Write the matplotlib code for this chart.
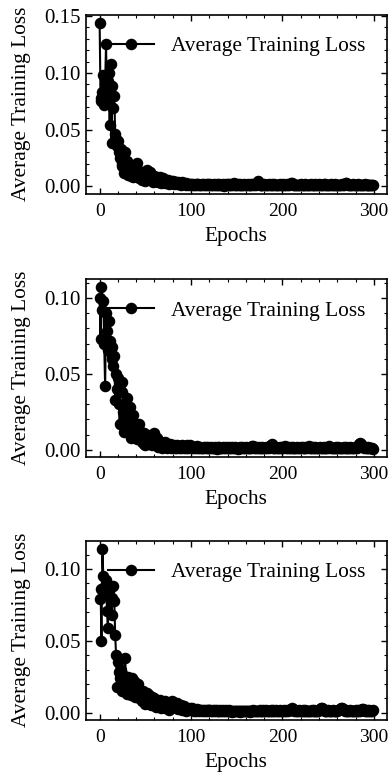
import numpy as np
from matplotlib import pyplot
from matplotlib.ticker import MultipleLocator


### figure preliminaries:
params = {	'font.family':'serif', 'font.serif':['Liberation Serif'],
			'font.size':15.4, 'axes.labelsize':15.4, 'legend.fontsize':15.4,
			'xtick.labelsize':14, 'ytick.labelsize':15,
			'xtick.direction':'in', 'ytick.direction':'in',
			'xtick.top':True, 'ytick.right':True,
			'xtick.major.size':4, 'ytick.major.size':4,
			'xtick.minor.size':2, 'ytick.minor.size':2,
			'xtick.major.width':1.0, 'ytick.major.width':1.0,
			'xtick.minor.width':0.8, 'ytick.minor.width':0.8,
			'xtick.major.pad':7, 'ytick.major.pad':4,
			'axes.linewidth':1.2,
			'figure.figsize': [3.89, 7.78]}
pyplot.rcParams.update(params)


#(0) Data:
loss_run1 = [
	0.144, 0.078, 0.075, 0.083, 0.098, 0.072, 0.090, 0.125, 0.080, 0.093, 0.100, 0.054, 0.108, 0.038, 0.088, 0.069, 0.080, 0.046, 0.042, 0.036,
	0.040, 0.030, 0.025, 0.033, 0.020, 0.018, 0.026, 0.012, 0.030, 0.015, 0.022, 0.010, 0.018, 0.014, 0.009, 0.016, 0.012, 0.008, 0.013, 0.010,
	0.017, 0.021, 0.012, 0.007, 0.011, 0.009, 0.006, 0.013, 0.008, 0.010, 0.005, 0.012, 0.014, 0.007, 0.009, 0.013, 0.006, 0.010, 0.004, 0.008,
	0.009, 0.005, 0.007, 0.008, 0.004, 0.006, 0.008, 0.003, 0.005, 0.007, 0.004, 0.006, 0.003, 0.005, 0.004, 0.006, 0.002, 0.004, 0.005, 0.003,
	0.0045, 0.0025, 0.0035, 0.0030, 0.0040, 0.0020, 0.0035, 0.0025, 0.0030, 0.0015, 0.0035, 0.0020, 0.0030, 0.0025, 0.0015, 0.0030, 0.0020, 0.0025, 0.0015, 0.0020,
	0.0018, 0.0012, 0.0022, 0.0015, 0.0009, 0.0020, 0.0013, 0.0017, 0.0025, 0.0011, 0.0016, 0.0008, 0.0019, 0.0014, 0.0021, 0.0010, 0.0015, 0.0024, 0.0012, 0.0017,
	0.0009, 0.0020, 0.0013, 0.0016, 0.0011, 0.0022, 0.0014, 0.0008, 0.0018, 0.0012, 0.0015, 0.0021, 0.0010, 0.0016, 0.0013, 0.0019, 0.0007, 0.0014, 0.0020, 0.0011,
	0.0017, 0.0012, 0.0023, 0.0009, 0.0015, 0.0018, 0.0010, 0.0026, 0.0013, 0.0016, 0.0008, 0.0019, 0.0012, 0.0015, 0.0021, 0.0011, 0.0014, 0.0009, 0.0018, 0.0013,
	0.0016, 0.0010, 0.0020, 0.0012, 0.0015, 0.0008, 0.0017, 0.0013, 0.0019, 0.0011, 0.0022, 0.0014, 0.0030, 0.0045, 0.0021, 0.0012, 0.0016, 0.0009, 0.0015, 0.0011,
	0.0018, 0.0013, 0.0008, 0.0016, 0.0012, 0.0020, 0.0010, 0.0014, 0.0017, 0.0009, 0.0013, 0.0019, 0.0011, 0.0015, 0.0008, 0.0016, 0.0012, 0.0021, 0.0010, 0.0014,
	0.0011, 0.0017, 0.0009, 0.0015, 0.0012, 0.0019, 0.0010, 0.0013, 0.0022, 0.0027, 0.0032, 0.0018, 0.0012, 0.0009, 0.0015, 0.0011, 0.0016, 0.0008, 0.0014, 0.0012,
	0.0018, 0.0010, 0.0013, 0.0016, 0.0009, 0.0021, 0.0012, 0.0015, 0.0008, 0.0014, 0.0011, 0.0019, 0.0013, 0.0009, 0.0016, 0.0012, 0.0020, 0.0010, 0.0014, 0.0011,
	0.0017, 0.0009, 0.0013, 0.0015, 0.0010, 0.0018, 0.0012, 0.0024, 0.0014, 0.0008, 0.0016, 0.0011, 0.0013, 0.0019, 0.0009, 0.0015, 0.0012, 0.0017, 0.0010, 0.0013,
	0.0011, 0.0016, 0.0009, 0.0014, 0.0012, 0.0018, 0.0010, 0.0015, 0.0022, 0.0026, 0.0030, 0.0017, 0.0011, 0.0014, 0.0009, 0.0016, 0.0012, 0.0019, 0.0010, 0.0013,
	0.0015, 0.0009, 0.0012, 0.0017, 0.0010, 0.0014, 0.0008, 0.0016, 0.0011, 0.0013, 0.0018, 0.0009, 0.0014, 0.0012, 0.0010, 0.0016, 0.0011, 0.0013, 0.0009, 0.0012]

loss_run2 = [
	0.100, 0.073, 0.107, 0.092, 0.098, 0.070, 0.042, 0.090, 0.078, 0.066, 0.085, 0.072, 0.064, 0.068, 0.060, 0.055, 0.062, 0.033, 0.050, 0.040,
	0.047, 0.030, 0.017, 0.044, 0.038, 0.045, 0.025, 0.012, 0.030, 0.020, 0.034, 0.022, 0.015, 0.028, 0.008, 0.018, 0.023, 0.012, 0.015, 0.010,
	0.017, 0.007, 0.014, 0.017, 0.009, 0.012, 0.005, 0.007, 0.011, 0.004, 0.003, 0.008, 0.006, 0.010, 0.004, 0.007, 0.009, 0.003, 0.006, 0.010,
	0.011, 0.005, 0.004, 0.008, 0.002, 0.006, 0.003, 0.005, 0.001, 0.004, 0.003, 0.005, 0.002, 0.004, 0.001, 0.003, 0.002, 0.004, 0.0015, 0.003,
	0.0020, 0.0035, 0.0015, 0.0025, 0.0010, 0.0030, 0.0020, 0.0015, 0.0028, 0.0012, 0.0035, 0.0020, 0.0015, 0.0025, 0.0010, 0.0020, 0.0030, 0.0015, 0.0022, 0.0030,
	0.0025, 0.0015, 0.0020, 0.0012, 0.0018, 0.0010, 0.0016, 0.0022, 0.0011, 0.0014, 0.0019, 0.0009, 0.0015, 0.0012, 0.0020, 0.0010, 0.0016, 0.0013, 0.0021, 0.0011,
	0.0014, 0.0009, 0.0017, 0.0012, 0.0015, 0.0010, 0.0018, 0.0013, 0.0008, 0.0016, 0.0011, 0.0019, 0.0012, 0.0014, 0.0009, 0.0017, 0.0011, 0.0013, 0.0016, 0.0010,
	0.0015, 0.0012, 0.0018, 0.0009, 0.0013, 0.0016, 0.0010, 0.0014, 0.0020, 0.0011, 0.0015, 0.0008, 0.0013, 0.0017, 0.0010, 0.0012, 0.0016, 0.0009, 0.0014, 0.0011,
	0.0017, 0.0010, 0.0013, 0.0015, 0.0009, 0.0019, 0.0012, 0.0022, 0.0026, 0.0014, 0.0011, 0.0016, 0.0009, 0.0013, 0.0018, 0.0010, 0.0015, 0.0012, 0.0020, 0.0011,
	0.0014, 0.0009, 0.0016, 0.0012, 0.0018, 0.0013, 0.0024, 0.0033, 0.0040, 0.0028, 0.0015, 0.0010, 0.0013, 0.0017, 0.0009, 0.0014, 0.0011, 0.0016, 0.0012, 0.0019,
	0.0010, 0.0015, 0.0021, 0.0024, 0.0013, 0.0009, 0.0016, 0.0011, 0.0014, 0.0018, 0.0010, 0.0013, 0.0017, 0.0009, 0.0015, 0.0012, 0.0019, 0.0011, 0.0014, 0.0010,
	0.0016, 0.0012, 0.0018, 0.0009, 0.0014, 0.0011, 0.0017, 0.0013, 0.0020, 0.0023, 0.0015, 0.0010, 0.0013, 0.0016, 0.0009, 0.0012, 0.0018, 0.0011, 0.0015, 0.0010,
	0.0014, 0.0017, 0.0011, 0.0013, 0.0009, 0.0016, 0.0012, 0.0015, 0.0010, 0.0019, 0.0013, 0.0023, 0.0016, 0.0011, 0.0014, 0.0009, 0.0015, 0.0012, 0.0017, 0.0010,
	0.0013, 0.0016, 0.0011, 0.0014, 0.0009, 0.0015, 0.0012, 0.0018, 0.0010, 0.0013, 0.0016, 0.0011, 0.0014, 0.0009, 0.0017, 0.0012, 0.0015, 0.0010, 0.0013, 0.0016,
	0.0011, 0.0014, 0.0018, 0.0025, 0.0036, 0.0046, 0.0041, 0.0028, 0.0019, 0.0013, 0.0016, 0.0010, 0.0014, 0.0011, 0.0017, 0.0012, 0.0009, 0.0013, 0.0010, 0.0008]

loss_run3 = [
	0.079, 0.086, 0.050, 0.114, 0.095, 0.082, 0.088, 0.092, 0.071, 0.059, 0.085, 0.088, 0.078, 0.068, 0.080, 0.088, 0.078, 0.054, 0.040, 0.018,
	0.035, 0.028, 0.024, 0.030, 0.020, 0.015, 0.026, 0.022, 0.038, 0.018, 0.013, 0.025, 0.017, 0.021, 0.012, 0.024, 0.019, 0.016, 0.022, 0.011,
	0.018, 0.014, 0.020, 0.010, 0.016, 0.012, 0.008, 0.015, 0.009, 0.013, 0.006, 0.011, 0.014, 0.007, 0.012, 0.009, 0.005, 0.011, 0.008, 0.010,
	0.006, 0.009, 0.004, 0.008, 0.007, 0.005, 0.009, 0.003, 0.007, 0.006, 0.004, 0.008, 0.003, 0.006, 0.005, 0.004, 0.002, 0.005, 0.006, 0.008,
	0.0075, 0.0040, 0.0060, 0.0030, 0.0050, 0.0065, 0.0025, 0.0040, 0.0030, 0.0050, 0.0020, 0.0035, 0.0045, 0.0020, 0.0030, 0.0015, 0.0035, 0.0025, 0.0020, 0.0030,
	0.0025, 0.0030, 0.0022, 0.0015, 0.0019, 0.0012, 0.0024, 0.0016, 0.0020, 0.0013, 0.0018, 0.0022, 0.0011, 0.0017, 0.0014, 0.0020, 0.0012, 0.0016, 0.0019, 0.0013,
	0.0017, 0.0021, 0.0012, 0.0015, 0.0018, 0.0010, 0.0016, 0.0013, 0.0019, 0.0011, 0.0015, 0.0012, 0.0017, 0.0010, 0.0014, 0.0018, 0.0011, 0.0013, 0.0016, 0.0009,
	0.0014, 0.0011, 0.0016, 0.0010, 0.0013, 0.0008, 0.0015, 0.0012, 0.0010, 0.0014, 0.0009, 0.0013, 0.0011, 0.0015, 0.0008, 0.0012, 0.0010, 0.0014, 0.0009, 0.0011,
	0.0013, 0.0009, 0.0015, 0.0011, 0.0008, 0.0014, 0.0010, 0.0012, 0.0016, 0.0009, 0.0013, 0.0011, 0.0015, 0.0010, 0.0014, 0.0018, 0.0012, 0.0009, 0.0013, 0.0016,
	0.0011, 0.0014, 0.0019, 0.0012, 0.0010, 0.0015, 0.0013, 0.0017, 0.0011, 0.0014, 0.0020, 0.0013, 0.0010, 0.0016, 0.0012, 0.0015, 0.0011, 0.0018, 0.0013, 0.0010,
	0.0015, 0.0012, 0.0017, 0.0011, 0.0014, 0.0019, 0.0013, 0.0016, 0.0022, 0.0027, 0.0031, 0.0026, 0.0018, 0.0013, 0.0016, 0.0011, 0.0014, 0.0012, 0.0017, 0.0010,
	0.0014, 0.0012, 0.0016, 0.0010, 0.0013, 0.0017, 0.0011, 0.0015, 0.0012, 0.0014, 0.0009, 0.0013, 0.0016, 0.0011, 0.0014, 0.0019, 0.0012, 0.0015, 0.0010, 0.0013,
	0.0018, 0.0024, 0.0029, 0.0033, 0.0025, 0.0016, 0.0012, 0.0015, 0.0010, 0.0013, 0.0017, 0.0011, 0.0014, 0.0009, 0.0012, 0.0016, 0.0010, 0.0013, 0.0015, 0.0011,
	0.0014, 0.0017, 0.0021, 0.0026, 0.0031, 0.0035, 0.0028, 0.0019, 0.0013, 0.0016, 0.0011, 0.0014, 0.0010, 0.0013, 0.0017, 0.0012, 0.0015, 0.0010, 0.0014, 0.0012,
	0.0016, 0.0011, 0.0014, 0.0018, 0.0012, 0.0015, 0.0019, 0.0023, 0.0026, 0.0021, 0.0015, 0.0012, 0.0016, 0.0011, 0.0014, 0.0018, 0.0013, 0.0015, 0.0012, 0.0017]

epochs = np.arange(len(loss_run1))
label  = 'Average Training Loss'


#(1) Plot:
pyplot.close('all')
fig = pyplot.figure(dpi=100)
rects = [[0.221,0.751,0.773,0.230], [0.221,0.413,0.773,0.228], [0.221,0.075,0.773,0.230]]
for rect,loss in zip(rects, (loss_run1, loss_run2, loss_run3)):
	ax = fig.add_axes(rect)
	ax.plot(epochs, loss, color='k', marker='o', markersize=7.3, linewidth=1.5, label=label)
	ax.legend(loc='upper right', frameon=False, handlelength=2.15, borderaxespad=0.6)
	ax.set_xlabel('Epochs', labelpad=5)
	ax.set_ylabel('Average Training Loss', labelpad=9)
	ax.xaxis.set_major_locator(MultipleLocator(100))
	ax.xaxis.set_minor_locator(MultipleLocator(20))
	ax.yaxis.set_major_locator(MultipleLocator(0.05))
	ax.yaxis.set_minor_locator(MultipleLocator(0.01))
	ax.tick_params(which='both', direction='in', top=True, right=True)
pyplot.savefig('out.png', dpi=100)
